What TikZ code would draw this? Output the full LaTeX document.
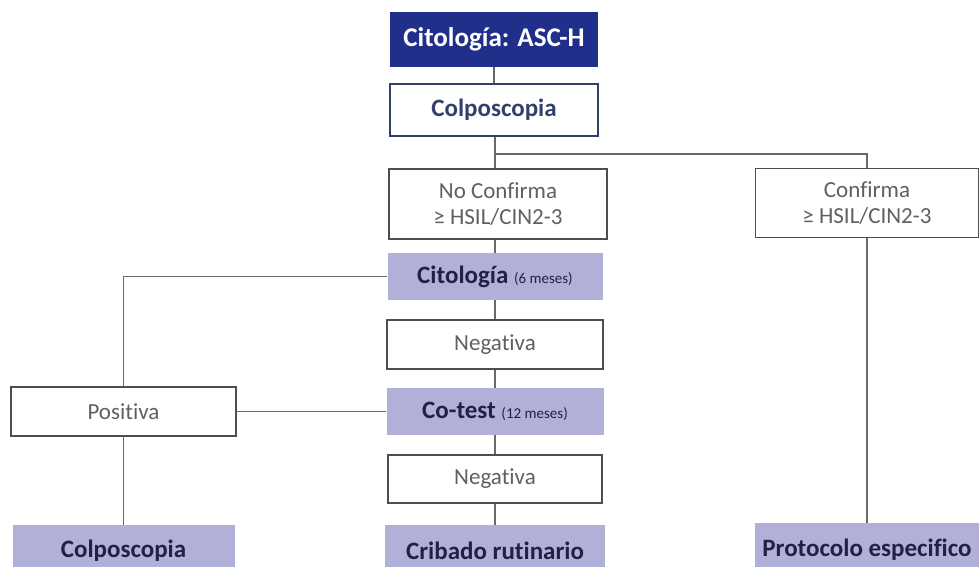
\documentclass[tikz,border=0pt]{standalone}
\usepackage{fontspec}
\setmainfont{Carlito}[Ligatures=NoCommon]
\usetikzlibrary{positioning}
\definecolor{navy}{RGB}{32,48,138}
\definecolor{lila}{RGB}{176,176,216}
\definecolor{ink}{RGB}{32,32,72}
\definecolor{boxgray}{RGB}{78,78,78}
\definecolor{txtgray}{RGB}{96,96,96}
\definecolor{linegray}{RGB}{105,105,105}
\definecolor{bluegray}{RGB}{52,64,108}

\begin{document}
\begin{tikzpicture}[x=1pt,y=-1pt,
	whitebox/.style={draw=boxgray, line width=1.6pt, fill=white, text=txtgray, font=\fontsize{23}{26}\selectfont, align=center, inner sep=0pt},
	lilabox/.style={fill=lila, text=ink, font=\fontsize{25}{28}\selectfont\bfseries, inner sep=0pt},
	link/.style={draw=linegray, line width=1.4pt}]
		\useasboundingbox (0,0) rectangle (979,566);
		\node[fill=navy, text=white, font=\fontsize{27}{30}\selectfont\bfseries, minimum width=208pt, minimum height=55pt, inner sep=0pt] (cita) at (494,39.5) {Citología: ASC-H};
		\node[draw=bluegray, line width=1.8pt, fill=white, text=bluegray, font=\fontsize{25}{28}\selectfont\bfseries, minimum width=208pt, minimum height=52pt, inner sep=0pt] (colpo) at (494,110) {Colposcopia};
		\node[whitebox, minimum width=218pt, minimum height=70pt] (nocon) at (498,204) {No Confirma\\≥ HSIL/CIN2-3};
		\node[whitebox, minimum width=223pt, minimum height=69pt] (conf) at (867,203) {Confirma\\≥ HSIL/CIN2-3};
		\node[lilabox, minimum width=215pt, minimum height=47pt] (cito6) at (495,276.5) {Citología {\mdseries\fontsize{15}{18}\selectfont(6 meses)}};
		\node[whitebox, minimum width=216pt, minimum height=49pt] (negA) at (495,344.5) {Negativa};
		\node[lilabox, minimum width=217pt, minimum height=47pt] (cotest) at (495,411.5) {Co-test {\mdseries\fontsize{15}{18}\selectfont(12 meses)}};
		\node[whitebox, minimum width=225pt, minimum height=49pt] (pos) at (123.5,411.5) {Positiva};
		\node[whitebox, minimum width=214pt, minimum height=48pt] (negB) at (495,479) {Negativa};
		\node[lilabox, minimum width=222pt, minimum height=52pt] (colpoF) at (123.5,551) {Colposcopia};
		\node[lilabox, minimum width=220pt, minimum height=52pt] (crib) at (495,551) {Cribado rutinario};
		\node[lilabox, minimum width=224pt, minimum height=54pt] (proto) at (867,550) {Protocolo especifico};
		% conectores
		\coordinate (split) at (495,154);
		\draw[link] (cita) -- (colpo);
		\draw[link] (colpo.south -| split) -- (split) -| (conf.north);
		\draw[link] (split) -- (split |- nocon.north);
		\draw[link] (nocon.south -| cito6) -- (cito6);
		\draw[link] (cito6) -- (negA);
		\draw[link] (negA) -- (cotest);
		\draw[link] (cotest) -- (negB);
		\draw[link] (negB) -- (crib);
		\draw[link] (cito6.west) -| (pos.north);
		\draw[link] (pos) -- (cotest);
		\draw[link] (pos) -- (colpoF);
		\draw[link] (conf) -- (proto);
\end{tikzpicture}
\end{document}
